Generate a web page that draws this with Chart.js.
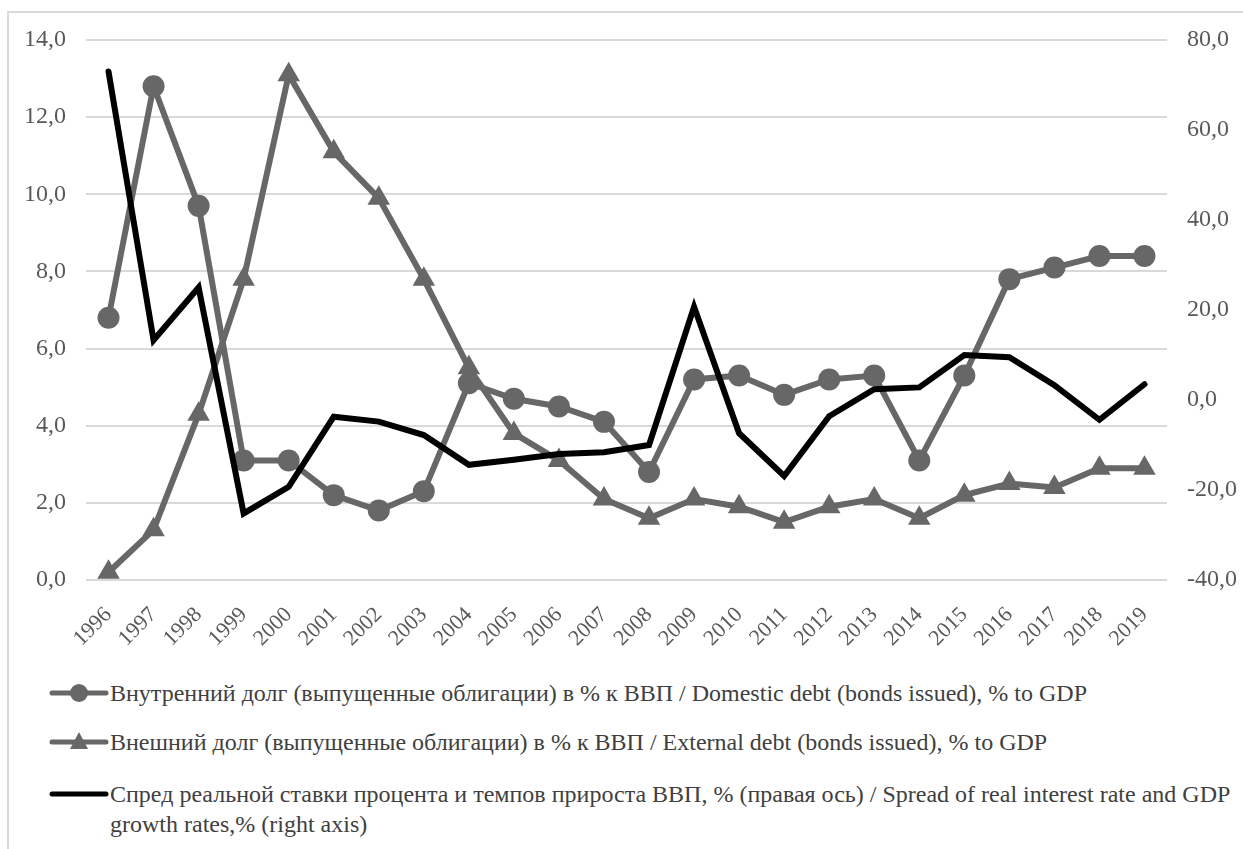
<!DOCTYPE html>
<html lang="ru">
<head>
<meta charset="utf-8">
<title>Долг и спред</title>
<script src="https://cdn.jsdelivr.net/npm/chart.js@4/dist/chart.umd.min.js"></script>
<style>
  html, body { margin: 0; padding: 0; background: #ffffff; }
  body { width: 1243px; height: 849px; position: relative; overflow: hidden; }
  #frame {
    position: absolute; left: 7px; top: 11px; width: 1300px; height: 900px;
    border: 2px solid #d9d9d9; box-sizing: border-box;
  }
  #chart { position: absolute; left: 0; top: 0; }
  .item {
    position: absolute; left: 48px; white-space: nowrap;
    font-family: "Liberation Serif", "Times New Roman", Times, serif;
    font-size: 24px; line-height: 30px; color: #404040;
  }
  .item svg { position: absolute; left: 0; top: 0; }
  .item span { display: block; margin-left: 62px; }
</style>
</head>
<body>
<div id="frame"></div>
<canvas id="chart" width="1243" height="650"></canvas>
<div id="legend"></div>
<script>
// Years on the category axis
const years = ['1996','1997','1998','1999','2000','2001','2002','2003','2004','2005','2006','2007',
               '2008','2009','2010','2011','2012','2013','2014','2015','2016','2017','2018','2019'];

// Domestic debt (bonds issued), % of GDP — left axis
const domesticDebt = [6.8, 12.8, 9.7, 3.1, 3.1, 2.2, 1.8, 2.3, 5.1, 4.7, 4.5, 4.1,
                      2.8, 5.2, 5.3, 4.8, 5.2, 5.3, 3.1, 5.3, 7.8, 8.1, 8.4, 8.4];

// External debt (bonds issued), % of GDP — left axis
const externalDebt = [0.2, 1.3, 4.3, 7.8, 13.1, 11.1, 9.9, 7.8, 5.5, 3.8, 3.1, 2.1,
                      1.6, 2.1, 1.9, 1.5, 1.9, 2.1, 1.6, 2.2, 2.5, 2.4, 2.9, 2.9];

// Spread of real interest rate and GDP growth, % — right axis
const spread = [73.0, 13.3, 25.0, -25.2, -19.3, -3.7, -4.8, -7.8, -14.4, -13.3, -12.0, -11.6,
                -10.0, 20.7, -7.4, -16.9, -3.6, 2.4, 2.8, 10.0, 9.5, 3.3, -4.4, 3.5];

// Axis ranges
const leftTicks = { min: 0, max: 14, step: 2 };
const rightTicks = { min: -40, max: 80, step: 20 };

// Series labels
const labels = {
  domestic: 'Внутренний долг (выпущенные облигации) в % к ВВП / Domestic debt (bonds issued), % to GDP',
  external: 'Внешний долг (выпущенные облигации) в % к ВВП / External debt (bonds issued), % to GDP',
  spread: ['Спред реальной ставки процента и темпов прироста ВВП, % (правая ось) / Spread of real interest rate and GDP',
           'growth rates,% (right axis)']
};

const GREY = '#676767';
const BLACK = '#000000';
const FONT = "'Liberation Serif', 'Times New Roman', Times, serif";
const fmt = v => v.toFixed(1).replace('.', ',');

new Chart(document.getElementById('chart'), {
  type: 'line',
  data: {
    labels: years,
    datasets: [
      {
        label: labels.spread.join(' '),
        data: spread,
        yAxisID: 'yRight',
        borderColor: BLACK,
        backgroundColor: BLACK,
        borderWidth: 6,
        borderCapStyle: 'round',
        borderJoinStyle: 'miter',
        pointRadius: 0,
        tension: 0,
        order: 0
      },
      {
        label: labels.domestic,
        data: domesticDebt,
        yAxisID: 'yLeft',
        borderColor: GREY,
        backgroundColor: GREY,
        borderWidth: 6,
        pointStyle: 'circle',
        pointRadius: 11,
        pointBorderWidth: 0,
        tension: 0,
        order: 1
      },
      {
        label: labels.external,
        data: externalDebt,
        yAxisID: 'yLeft',
        borderColor: GREY,
        backgroundColor: GREY,
        borderWidth: 6,
        pointStyle: 'triangle',
        pointRadius: 13,
        pointBorderWidth: 0,
        tension: 0,
        order: 2
      }
    ]
  },
  options: {
    responsive: false,
    animation: false,
    devicePixelRatio: 1,
    layout: { padding: { top: 40, left: 0, right: 0, bottom: 0 } },
    plugins: { legend: { display: false }, tooltip: { enabled: false } },
    scales: {
      x: {
        offset: true,
        grid: { display: false, drawTicks: false },
        border: { display: false },
        ticks: {
          autoSkip: false, minRotation: 45, maxRotation: 45, padding: 22,
          color: '#595959', font: { family: FONT, size: 22 }
        },
        afterFit: s => { s.height = 70; }
      },
      yLeft: {
        position: 'left',
        min: leftTicks.min, max: leftTicks.max,
        grid: { color: '#d9d9d9', lineWidth: 2, drawTicks: false },
        border: { display: false },
        ticks: {
          stepSize: leftTicks.step, padding: 20,
          color: '#595959', font: { family: FONT, size: 24 },
          callback: v => fmt(v)
        },
        afterFit: s => { s.width = 86; }
      },
      yRight: {
        position: 'right',
        min: rightTicks.min, max: rightTicks.max,
        grid: { display: false, drawTicks: false },
        border: { display: false },
        ticks: {
          stepSize: rightTicks.step, padding: 20,
          color: '#595959', font: { family: FONT, size: 24 },
          callback: v => fmt(v)
        },
        afterFit: s => { s.width = 76; }
      }
    }
  }
});

// Legend below the plot: line samples with the series markers
const legendEl = document.getElementById('legend');
const entries = [
  { top: 678, text: [labels.domestic], color: GREY, marker: 'circle' },
  { top: 727, text: [labels.external], color: GREY, marker: 'triangle' },
  { top: 779, text: labels.spread, color: BLACK, marker: null }
];
entries.forEach(e => {
  const div = document.createElement('div');
  div.className = 'item';
  div.style.top = e.top + 'px';
  let mark = '';
  if (e.marker === 'circle') mark = `<circle cx="31" cy="15" r="9" fill="${e.color}"/>`;
  if (e.marker === 'triangle') mark = `<polygon points="31,5 40,22 22,22" fill="${e.color}"/>`;
  div.innerHTML =
    `<svg width="62" height="30" viewBox="0 0 62 30">` +
    `<line x1="4" y1="15" x2="58" y2="15" stroke="${e.color}" stroke-width="5" stroke-linecap="round"/>` +
    mark + `</svg>` +
    e.text.map(t => `<span>${t}</span>`).join('');
  legendEl.appendChild(div);
});
</script>
</body>
</html>
